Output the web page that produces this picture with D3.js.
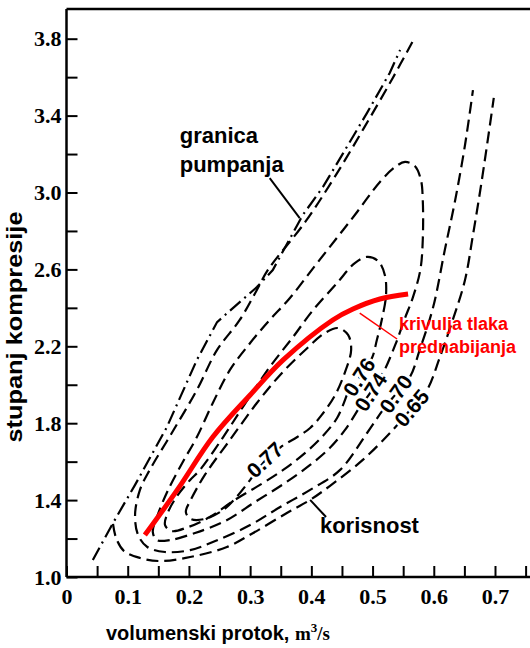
<!DOCTYPE html>
<html>
<head>
<meta charset="utf-8">
<script src="https://cdn.jsdelivr.net/npm/d3@7"></script>
<style>
  body { margin: 0; background: #fff; }
  svg { display: block; }
</style>
</head>
<body>
<svg id="chart" width="530" height="648"></svg>
<script>
///////// data (flow m3/s, pressure ratio)
var surgeLine = [[0.043,1.088],[0.076,1.281],[0.112,1.479],[0.164,1.780],[0.213,2.129],[0.246,2.326],
    [0.283,2.430],[0.311,2.508],[0.337,2.597],[0.386,2.883],[0.419,3.029],[0.452,3.205],[0.491,3.414],
    [0.528,3.622],[0.545,3.741]]

var boostCurve = [[0.128,1.218],[0.181,1.453],[0.239,1.728],[0.300,1.947],[0.354,2.129],[0.435,2.337],
    [0.468,2.394],[0.512,2.446],[0.558,2.472]]

var eff077 = [[0.300,1.505],[0.324,1.603],[0.350,1.676],[0.377,1.728],[0.398,1.775],[0.417,1.843],
    [0.439,1.947],[0.455,2.066],[0.465,2.181],[0.460,2.259],[0.444,2.295],[0.422,2.269],[0.390,2.181],
    [0.349,2.051],[0.311,1.905],[0.267,1.713],[0.226,1.531],[0.203,1.401],[0.195,1.338],[0.203,1.302],
    [0.226,1.302],[0.256,1.349],[0.279,1.421],[0.300,1.505]]

var eff076 = [[0.458,1.947],[0.442,1.827],[0.417,1.728],[0.386,1.635],[0.354,1.557],[0.316,1.479],
    [0.275,1.401],[0.234,1.312],[0.199,1.260],[0.172,1.239],[0.161,1.270],[0.166,1.338],[0.182,1.427],
    [0.202,1.505],[0.218,1.557],[0.256,1.728],[0.288,1.884],[0.332,2.092],[0.370,2.248],[0.403,2.389],
    [0.442,2.529],[0.471,2.633],[0.491,2.665],[0.509,2.644],[0.520,2.571],[0.522,2.467],[0.515,2.337],
    [0.507,2.233],[0.499,2.139],[0.479,2.040],[0.458,1.947]]

var eff074 = [[0.476,1.869],[0.455,1.765],[0.430,1.671],[0.398,1.583],[0.357,1.489],[0.308,1.390],
    [0.259,1.291],[0.210,1.229],[0.169,1.192],[0.148,1.192],[0.141,1.234],[0.149,1.323],[0.166,1.453],
    [0.190,1.598],[0.213,1.728],[0.239,1.905],[0.267,2.077],[0.300,2.217],[0.332,2.337],[0.365,2.451],
    [0.403,2.607],[0.439,2.753],[0.471,2.883],[0.512,3.055],[0.537,3.133],[0.553,3.159],[0.569,3.138],
    [0.579,3.065],[0.582,2.961],[0.582,2.753],[0.578,2.597],[0.566,2.456],[0.553,2.347],[0.537,2.207],
    [0.517,2.061],[0.497,1.962],[0.476,1.869]]

var eff070 = [[0.565,3.783],[0.533,3.596],[0.486,3.336],[0.437,3.075],[0.390,2.847],[0.329,2.597],
    [0.311,2.493],[0.283,2.337],[0.246,2.181],[0.213,1.973],[0.172,1.749],[0.136,1.557],[0.120,1.453],
    [0.112,1.323],[0.117,1.218],[0.132,1.156],[0.161,1.130],[0.202,1.140],[0.243,1.187],[0.300,1.270],
    [0.349,1.364],[0.398,1.453],[0.447,1.557],[0.491,1.749],[0.517,1.869],[0.538,1.952],[0.561,2.040],
    [0.577,2.181],[0.599,2.404],[0.618,2.701],[0.635,2.961],[0.651,3.247],[0.664,3.533]]

var eff065 = [[0.076,1.276],[0.081,1.203],[0.094,1.135],[0.120,1.099],[0.153,1.083],[0.202,1.104],
    [0.262,1.156],[0.305,1.229],[0.360,1.333],[0.398,1.401],[0.430,1.473],[0.484,1.609],[0.533,1.765],
    [0.564,1.879],[0.589,1.973],[0.610,2.144],[0.631,2.337],[0.651,2.545],[0.664,2.779],[0.676,3.013],
    [0.687,3.247],[0.698,3.492]]

// label name, position on the curve, text angle
var effLabels = [["0.77",0.324,1.609,-43],["0.76",0.478,2.040,-57],["0.74",0.497,1.962,-57],
    ["0.70",0.538,1.952,-55],["0.65",0.564,1.879,-50]]

var xTicks = [0,0.05,0.1,0.15,0.2,0.25,0.3,0.35,0.4,0.45,0.5,0.55,0.6,0.65,0.7,0.75]
var xTickLabels = ["0","","0.1","","0.2","","0.3","","0.4","","0.5","","0.6","","0.7",""]
var yTicks = [1.0,1.2,1.4,1.6,1.8,2.0,2.2,2.4,2.6,2.8,3.0,3.2,3.4,3.6,3.8]
var yTickLabels = ["1.0","","1.4","","1.8","","2.2","","2.6","","3.0","","3.4","","3.8"]

// annotation texts: text, x, y (data units), colour
var notes = [["granica",0.185,3.257,"#000"],["pumpanja",0.185,3.107,"#000"],["korisnost",0.414,1.229,"#000"],
    ["krivulja tlaka",0.543,2.285,"#ff0000"],["prednabijanja",0.543,2.165,"#ff0000"]]
var leaders = [[[0.332,3.075],[0.381,2.867],"#000",2],[[0.398,1.401],[0.424,1.312],"#000",2],
    [[0.479,2.373],[0.540,2.238],"#ff0000",1.5]]

var svg = d3.select("#chart")

var xScale = d3.scaleLinear().domain([0, 0.7]).range([66.5, 495])
var yScale = d3.scaleLinear().domain([1.0, 3.8]).range([577, 38.7])

var sansFont = "'Liberation Sans', Arial, sans-serif"
var serifFont = "'Liberation Serif', 'Times New Roman', serif"

///////// frame top line
svg.append("line")
    .attr("x1", xScale(0)).attr("x2", 530)
    .attr("y1", 9).attr("y2", 9)
    .attr("stroke", "#000").attr("stroke-width", 2.5)

///////// axes, ticks point inwards
var xAxis = d3.axisBottom(xScale)
    .tickValues(xTicks)
    .tickFormat(function(d, i) { return xTickLabels[i] })
    .tickSizeInner(-11).tickSizeOuter(0).tickPadding(11)

var yAxis = d3.axisLeft(yScale)
    .tickValues(yTicks)
    .tickFormat(function(d, i) { return yTickLabels[i] })
    .tickSizeInner(-11).tickSizeOuter(0).tickPadding(5)

var gx = svg.append("g").attr("transform", "translate(0,577)").call(xAxis)
var gy = svg.append("g").attr("transform", "translate(66.5,0)").call(yAxis)

// stretch the domain lines to the frame
gx.select(".domain").attr("d", "M66.5,0H530")
gy.select(".domain").attr("d", "M0,9V577")

svg.selectAll(".domain").attr("stroke-width", 2.5)
svg.selectAll(".tick line").attr("stroke-width", 2)
svg.selectAll(".tick text")
    .style("font-family", serifFont)
    .style("font-weight", "bold")
    .style("font-size", "22px")
    .attr("fill", "#000")

///////// axis titles
svg.append("text")
    .attr("transform", "translate(22," + 327 + ") rotate(-90)")
    .attr("text-anchor", "middle")
    .attr("textLength", 231).attr("lengthAdjust", "spacingAndGlyphs")
    .style("font-family", sansFont).style("font-weight", "bold").style("font-size", "22px")
    .text("stupanj kompresije")

svg.append("text")
    .attr("x", 106).attr("y", 640)
    .style("font-family", sansFont).style("font-weight", "bold").style("font-size", "20px")
    .text("volumenski protok,")

var unit = svg.append("text")
    .attr("x", 295).attr("y", 640)
    .style("font-family", serifFont).style("font-weight", "bold").style("font-size", "19px")
unit.append("tspan").text("m")
unit.append("tspan").attr("dy", -8).style("font-size", "13px").text("3")
unit.append("tspan").attr("dy", 8).text("/s")

///////// curves
var line = d3.line()
    .x(function(d) { return xScale(d[0]) })
    .y(function(d) { return yScale(d[1]) })
    .curve(d3.curveCatmullRom.alpha(0.5))

var contours = [eff077, eff076, eff074, eff070, eff065]

svg.selectAll(".eff")
    .data(contours)
    .enter()
    .append("path")
    .attr("class", "eff")
    .attr("d", function(d) { return line(d) })
    .attr("fill", "none")
    .attr("stroke", "#000")
    .attr("stroke-width", 2.2)
    .attr("stroke-dasharray", "12,6")

svg.append("path")
    .attr("d", d3.line()
        .x(function(d) { return xScale(d[0]) })
        .y(function(d) { return yScale(d[1]) })(surgeLine))
    .attr("fill", "none")
    .attr("stroke", "#000")
    .attr("stroke-width", 2.2)
    .attr("stroke-dasharray", "14,5,2,5")

svg.append("path")
    .attr("d", line(boostCurve))
    .attr("fill", "none")
    .attr("stroke", "#ff0000")
    .attr("stroke-width", 5)
    .attr("stroke-linecap", "butt")

///////// efficiency labels sit in gaps of their curves
svg.selectAll(".efflabel")
    .data(effLabels)
    .enter()
    .append("text")
    .attr("class", "efflabel")
    .attr("transform", function(d) { return "translate(" + xScale(d[1]) + "," + yScale(d[2]) + ") rotate(" + d[3] + ")" })
    .attr("text-anchor", "middle")
    .attr("dy", "0.35em")
    .style("font-family", sansFont).style("font-weight", "bold").style("font-size", "21px")
    .style("paint-order", "stroke")
    .attr("stroke", "#fff").attr("stroke-width", 5)
    .attr("fill", "#000")
    .text(function(d) { return d[0] })

///////// annotations
leaders.forEach(function(l) {
    svg.append("line")
        .attr("x1", xScale(l[0][0])).attr("y1", yScale(l[0][1]))
        .attr("x2", xScale(l[1][0])).attr("y2", yScale(l[1][1]))
        .attr("stroke", l[2]).attr("stroke-width", l[3])
})

svg.selectAll(".note")
    .data(notes)
    .enter()
    .append("text")
    .attr("class", "note")
    .attr("x", function(d) { return xScale(d[1]) })
    .attr("y", function(d) { return yScale(d[2]) })
    .attr("fill", function(d) { return d[3] })
    .style("font-family", sansFont).style("font-weight", "bold")
    .style("font-size", function(d) { return d[3] == "#000" ? "22px" : "18px" })
    .text(function(d) { return d[0] })
</script>
</body>
</html>
